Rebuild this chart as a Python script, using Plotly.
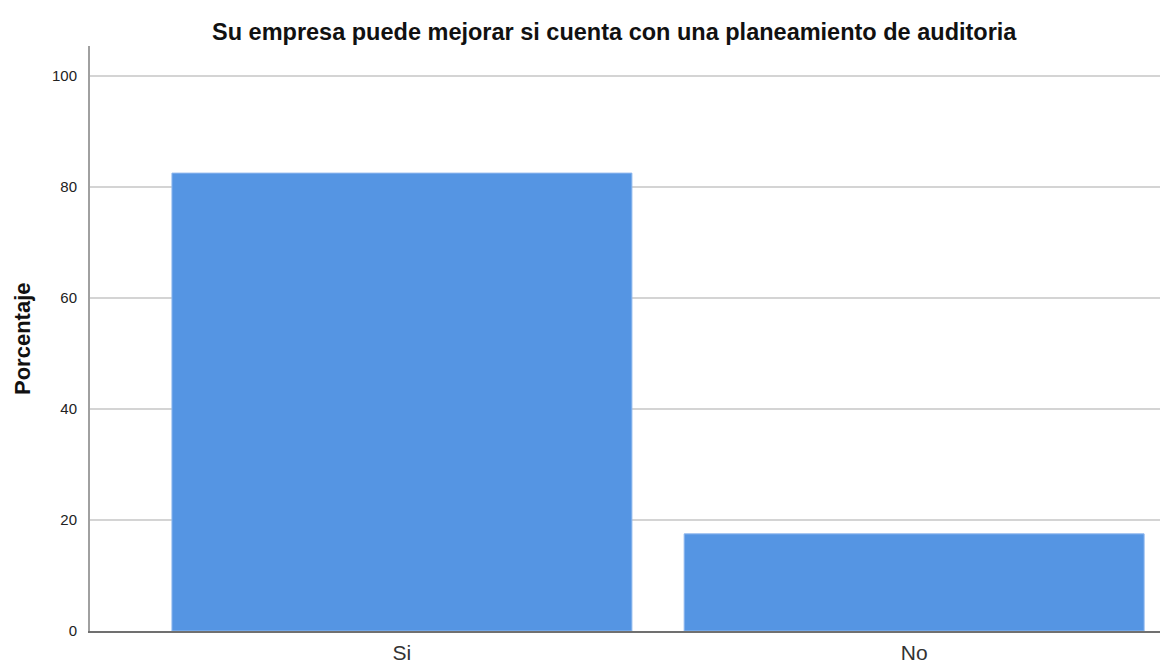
import plotly.graph_objects as go

categorias = ["Si", "No"]
porcentajes = [82.5, 17.5]
y_ticks = [0, 20, 40, 60, 80, 100]

fig = go.Figure()
fig.add_trace(go.Bar(
    x=categorias,
    y=porcentajes,
    width=0.898,
    marker=dict(color="#5595e3", line=dict(color="#8fb8ee", width=1)),
    hovertemplate="%{x}: %{y:.1f}%<extra></extra>",
))

fig.update_layout(
    width=1160,
    height=666,
    plot_bgcolor="white",
    paper_bgcolor="white",
    showlegend=False,
    margin=dict(l=90, r=0, t=46, b=35),
    font=dict(family="Liberation Sans, Arial, sans-serif", color="#222222"),
    annotations=[
        dict(text="<b>Su empresa puede mejorar si cuenta con una planeamiento de auditoria</b>",
             x=614, y=32, xref="paper", yref="paper", showarrow=False,
             xanchor="center", yanchor="middle",
             font=dict(size=23.5, color="#111111")),
        dict(text="<b>Porcentaje</b>", x=22, y=339, textangle=-90,
             xref="paper", yref="paper", showarrow=False,
             xanchor="center", yanchor="middle",
             font=dict(size=22, color="#111111")),
    ],
)

# annotation positions given in pixels -> convert to paper coordinates
pw, ph = 1160 - 90, 666 - 46 - 35
for a in fig.layout.annotations:
    a.x = (a.x - 90) / pw
    a.y = 1 - (a.y - 46) / ph

fig.update_xaxes(
    range=[-0.609, 1.48],
    showline=True, linecolor="#707070", linewidth=2,
    ticks="", showgrid=False,
    ticklabelstandoff=2,
    tickfont=dict(size=21, color="#333333"),
)
fig.update_yaxes(
    range=[0, 105.4],
    tickvals=y_ticks,
    showline=True, linecolor="#a0a0a0", linewidth=2,
    showgrid=True, gridcolor="#d4d4d4", gridwidth=2,
    zeroline=False, ticks="",
    ticklabelstandoff=8,
    tickfont=dict(size=15, color="#222222"),
)

fig.write_html("out.html", config={"displayModeBar": False},
               post_script="document.body.style.margin='0';")
